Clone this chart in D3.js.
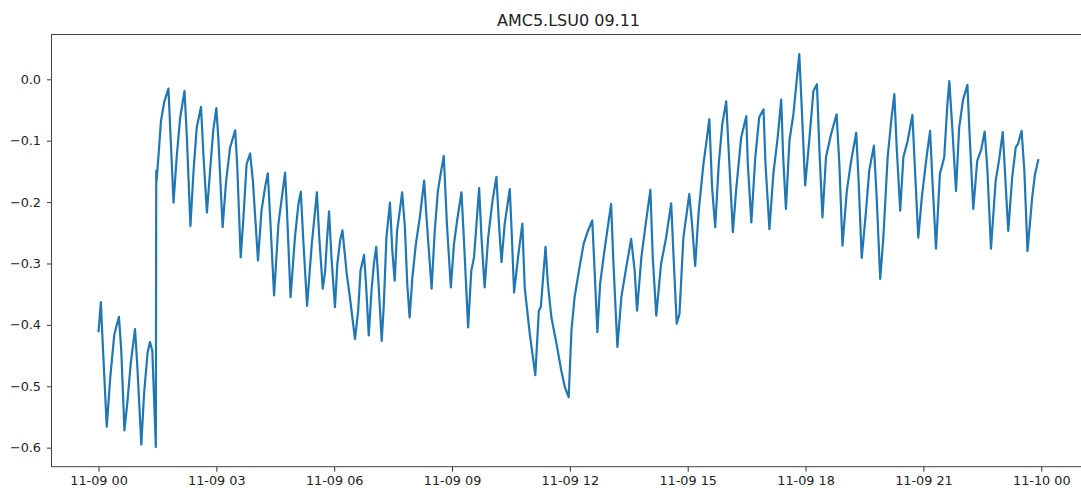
<!DOCTYPE html>
<html>
<head>
<meta charset="utf-8">
<script src="https://cdn.jsdelivr.net/npm/d3@7"></script>
<style>
  body { margin: 0; background: #fff; overflow: hidden; }
  svg { display: block; font-family: "DejaVu Sans", sans-serif; }
</style>
</head>
<body>
<script>
// hours after 11-09 00:00 (peaks, troughs and shoulders)
var hours = [
  0.00, 0.06, 0.11, 0.21, 0.30, 0.40, 0.45, 0.52, 0.58, 0.66, 0.74, 0.82, 0.93, 0.99, 1.09, 1.16, 1.25, 1.31, 1.37, 1.46,
  1.47, 1.48, 1.53, 1.59, 1.67, 1.78, 1.84, 1.91, 1.99, 2.08, 2.19, 2.25, 2.34, 2.42, 2.50, 2.61, 2.67, 2.76, 2.86, 2.92,
  3.00, 3.05, 3.16, 3.25, 3.35, 3.48, 3.53, 3.62, 3.69, 3.77, 3.86, 3.93, 4.06, 4.15, 4.24, 4.31, 4.37, 4.47, 4.58, 4.75,
  4.79, 4.89, 5.00, 5.09, 5.15, 5.21, 5.31, 5.43, 5.56, 5.62, 5.71, 5.77, 5.81, 5.87, 5.93, 6.02, 6.08, 6.15, 6.21, 6.32,
  6.40, 6.53, 6.61, 6.67, 6.76, 6.81, 6.88, 6.95, 7.01, 7.07, 7.12, 7.21, 7.26, 7.33, 7.42, 7.48, 7.54, 7.60, 7.67, 7.73,
  7.80, 7.86, 7.92, 7.99, 8.08, 8.18, 8.29, 8.35, 8.48, 8.56, 8.64, 8.71, 8.79, 8.87, 8.97, 9.05, 9.13, 9.24, 9.30, 9.41,
  9.49, 9.56, 9.69, 9.75, 9.83, 9.92, 10.03, 10.13, 10.20, 10.26, 10.34, 10.47, 10.51, 10.58, 10.68, 10.79, 10.85, 10.98, 11.12, 11.21,
  11.26, 11.38, 11.44, 11.53, 11.66, 11.78, 11.87, 11.97, 12.04, 12.12, 12.23, 12.35, 12.46, 12.57, 12.63, 12.70, 12.77, 12.88, 13.05, 13.11,
  13.21, 13.31, 13.42, 13.56, 13.65, 13.71, 13.82, 13.93, 14.05, 14.11, 14.20, 14.32, 14.45, 14.58, 14.64, 14.72, 14.79, 14.89, 15.04, 15.11,
  15.19, 15.28, 15.40, 15.48, 15.55, 15.62, 15.70, 15.79, 15.88, 15.98, 16.06, 16.15, 16.23, 16.36, 16.49, 16.53, 16.62, 16.72, 16.82, 16.93,
  16.98, 17.08, 17.18, 17.29, 17.38, 17.43, 17.50, 17.59, 17.69, 17.84, 17.91, 17.99, 18.10, 18.20, 18.29, 18.35, 18.43, 18.52, 18.65, 18.79,
  18.86, 18.94, 19.05, 19.16, 19.29, 19.35, 19.43, 19.54, 19.62, 19.74, 19.81, 19.90, 19.98, 20.09, 20.18, 20.26, 20.32, 20.41, 20.49, 20.60,
  20.72, 20.77, 20.87, 20.96, 21.08, 21.17, 21.23, 21.32, 21.42, 21.53, 21.61, 21.66, 21.74, 21.83, 21.91, 22.01, 22.12, 22.18, 22.27, 22.37,
  22.47, 22.56, 22.63, 22.72, 22.84, 22.93, 23.02, 23.08, 23.16, 23.26, 23.35, 23.41, 23.50, 23.57, 23.65, 23.77, 23.84, 23.93
];

var values = [
  -0.412, -0.363, -0.434, -0.566, -0.485, -0.417, -0.404, -0.387, -0.442, -0.572, -0.523, -0.463, -0.407, -0.469, -0.595, -0.512, -0.445, -0.428, -0.442, -0.599,
  -0.149, -0.165, -0.122, -0.068, -0.038, -0.015, -0.100, -0.201, -0.127, -0.062, -0.019, -0.095, -0.239, -0.149, -0.079, -0.045, -0.122, -0.217, -0.133, -0.084,
  -0.047, -0.095, -0.241, -0.165, -0.111, -0.083, -0.138, -0.290, -0.225, -0.138, -0.121, -0.165, -0.295, -0.214, -0.176, -0.153, -0.225, -0.352, -0.236, -0.152,
  -0.203, -0.355, -0.258, -0.203, -0.183, -0.258, -0.369, -0.268, -0.184, -0.258, -0.341, -0.312, -0.268, -0.215, -0.290, -0.371, -0.301, -0.263, -0.246, -0.317,
  -0.355, -0.423, -0.377, -0.312, -0.286, -0.333, -0.417, -0.344, -0.301, -0.273, -0.323, -0.426, -0.371, -0.258, -0.201, -0.279, -0.328, -0.247, -0.214, -0.184,
  -0.241, -0.333, -0.388, -0.323, -0.268, -0.225, -0.165, -0.225, -0.341, -0.247, -0.182, -0.154, -0.125, -0.236, -0.339, -0.268, -0.230, -0.184, -0.258, -0.404,
  -0.312, -0.290, -0.177, -0.258, -0.339, -0.258, -0.198, -0.159, -0.241, -0.298, -0.236, -0.179, -0.236, -0.347, -0.290, -0.235, -0.339, -0.415, -0.482, -0.377,
  -0.371, -0.273, -0.333, -0.388, -0.431, -0.474, -0.501, -0.518, -0.409, -0.355, -0.312, -0.268, -0.247, -0.230, -0.312, -0.412, -0.333, -0.279, -0.203, -0.301,
  -0.436, -0.355, -0.312, -0.260, -0.312, -0.377, -0.290, -0.236, -0.180, -0.290, -0.385, -0.301, -0.258, -0.202, -0.290, -0.398, -0.382, -0.258, -0.187, -0.236,
  -0.304, -0.214, -0.138, -0.100, -0.065, -0.176, -0.241, -0.138, -0.073, -0.036, -0.138, -0.249, -0.182, -0.095, -0.060, -0.138, -0.233, -0.127, -0.062, -0.049,
  -0.138, -0.244, -0.154, -0.095, -0.033, -0.127, -0.211, -0.100, -0.057, 0.041, -0.057, -0.173, -0.095, -0.019, -0.008, -0.111, -0.225, -0.127, -0.089, -0.057,
  -0.138, -0.271, -0.182, -0.133, -0.087, -0.165, -0.291, -0.214, -0.149, -0.108, -0.192, -0.325, -0.258, -0.127, -0.068, -0.024, -0.111, -0.214, -0.127, -0.100,
  -0.058, -0.127, -0.258, -0.192, -0.127, -0.084, -0.165, -0.276, -0.154, -0.127, -0.041, -0.003, -0.084, -0.182, -0.079, -0.033, -0.009, -0.095, -0.211, -0.133,
  -0.115, -0.085, -0.149, -0.276, -0.165, -0.130, -0.086, -0.155, -0.247, -0.160, -0.111, -0.105, -0.084, -0.149, -0.280, -0.192, -0.155, -0.130
];

var xTickHours = [0, 3, 6, 9, 12, 15, 18, 21, 24];
var yTicks = [-0.6, -0.5, -0.4, -0.3, -0.2, -0.1, 0.0];
var title = "AMC5.LSU0 09.11";

var start = new Date(2020, 10, 9, 0, 0);
function toDate(h) { return new Date(start.getTime() + h * 3600 * 1000); }

var data = hours.map(function(h, i) { return {t: toDate(h), v: values[i]}; });

// plot area, the right side runs past the picture like in the original
var margin = {top: 34.5, left: 51.5}, width = 1034, height = 432.2;

var svg = d3.select("body").append("svg")
    .attr("width", 1081)
    .attr("height", 488);

var g = svg.append("g")
    .attr("transform", "translate(" + margin.left + "," + margin.top + ")");

// matplotlib-like 5% margins around the data
var hExt = d3.extent(hours), vExt = d3.extent(values);
var hPad = (hExt[1] - hExt[0]) * 0.05, vPad = (vExt[1] - vExt[0]) * 0.05;

var x = d3.scaleTime()
    .domain([toDate(hExt[0] - hPad), toDate(hExt[1] + hPad)])
    .range([0, width]);

var y = d3.scaleLinear()
    .domain([vExt[0] - vPad, vExt[1] + vPad])
    .range([height, 0]);

var xAxis = g.append("g")
    .attr("transform", "translate(0," + height + ")")
    .call(d3.axisBottom(x)
        .tickValues(xTickHours.map(toDate))
        .tickFormat(d3.timeFormat("%m-%d %H"))
        .tickSize(5)
        .tickPadding(4));

var yAxis = g.append("g")
    .call(d3.axisLeft(y)
        .tickValues(yTicks)
        .tickFormat(d3.format(".1f"))
        .tickSize(4.5)
        .tickPadding(6));

[xAxis, yAxis].forEach(function(a) {
    a.select(".domain").remove();
    a.selectAll(".tick line").attr("stroke", "#333").attr("stroke-width", 1);
    a.selectAll(".tick text")
        .attr("fill", "#222")
        .style("font-size", "12.8px")
        .style("font-family", "DejaVu Sans");
});

g.append("path")
    .datum(data)
    .attr("fill", "none")
    .attr("stroke", "#1f77b4")
    .attr("stroke-width", 2.2)
    .attr("stroke-linejoin", "round")
    .attr("d", d3.line()
        .x(function(d) { return x(d.t); })
        .y(function(d) { return y(d.v); }));

// spines
g.append("rect")
    .attr("x", 0)
    .attr("y", 0)
    .attr("width", width)
    .attr("height", height)
    .attr("fill", "none")
    .attr("stroke", "#444")
    .attr("stroke-width", 1);

svg.append("text")
    .attr("x", margin.left + width / 2)
    .attr("y", 26)
    .attr("text-anchor", "middle")
    .attr("fill", "#222")
    .style("font-size", "16px")
    .text(title);
</script>
</body>
</html>
